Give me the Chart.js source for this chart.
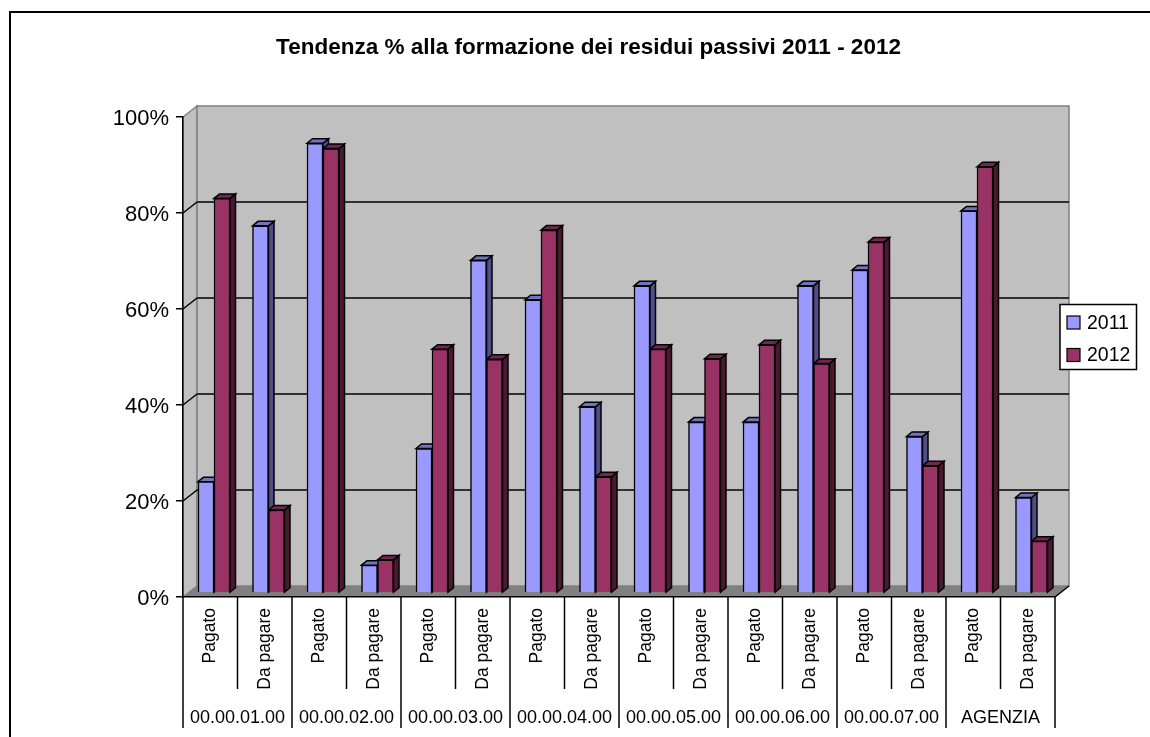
<!DOCTYPE html>
<html>
<head>
<meta charset="utf-8">
<title>Tendenza residui passivi</title>
<style>
    html, body { margin: 0; padding: 0; background: #fff; }
    canvas { display: block; }
</style>
<script src="https://cdn.jsdelivr.net/npm/chart.js@4"></script>
</head>
<body>
<canvas id="residuiChart" width="1150" height="737"></canvas>
<script>
const categories = ['Pagato', 'Da pagare', 'Pagato', 'Da pagare', 'Pagato', 'Da pagare', 'Pagato', 'Da pagare',
    'Pagato', 'Da pagare', 'Pagato', 'Da pagare', 'Pagato', 'Da pagare', 'Pagato', 'Da pagare'];
const groups = ['00.00.01.00', '00.00.02.00', '00.00.03.00', '00.00.04.00', '00.00.05.00', '00.00.06.00', '00.00.07.00', 'AGENZIA'];
const values2011 = [23.2, 76.5, 93.7, 5.8, 30.1, 69.3, 61.1, 38.8, 64, 35.6, 35.6, 64, 67.3, 32.6, 79.6, 19.9];
const values2012 = [82.2, 17.3, 92.6, 6.9, 50.8, 48.7, 75.6, 24.2, 50.8, 48.8, 51.7, 47.8, 73.1, 26.5, 88.8, 10.8];
const seriesLabels = ['2011', '2012'];

const FONT = '"Liberation Sans", Arial, sans-serif';
const BLUE = '#9999FF', BLUE_TOP = '#7373BF', BLUE_SIDE = '#4F4F88';
const RED = '#993366', RED_TOP = '#732650', RED_SIDE = '#4C1933';

// offsets of the fake 3D look
const WALL_DX = 14, WALL_DY = 11;   // back wall behind the front axes
const BAR_DX = 3.75, BAR_DY = 4;    // bars stand a bit inside the floor
const DEPTH_X = 5.5, DEPTH_Y = 4.5; // depth of a single bar

function poly(ctx, pts, fill, stroke, lw) {
    ctx.beginPath();
    ctx.moveTo(pts[0][0], pts[0][1]);
    for (let i = 1; i < pts.length; i++) ctx.lineTo(pts[i][0], pts[i][1]);
    ctx.closePath();
    if (fill) { ctx.fillStyle = fill; ctx.fill(); }
    if (stroke) { ctx.strokeStyle = stroke; ctx.lineWidth = lw; ctx.stroke(); }
}

function line(ctx, x1, y1, x2, y2, color, lw) {
    ctx.beginPath();
    ctx.moveTo(x1, y1);
    ctx.lineTo(x2, y2);
    ctx.strokeStyle = color;
    ctx.lineWidth = lw;
    ctx.stroke();
}

const wallsPlugin = {
    id: 'walls',
    // the y labels are wider than the fitted axis and would be clipped
    afterLayout(chart) {
        chart.scales.y.left = 100;
    },
    // frame, walls, floor and gridlines, all under the axes
    beforeDraw(chart) {
        const ctx = chart.ctx, area = chart.chartArea, y = chart.scales.y;
        const l = area.left, r = area.right, t = area.top, b = area.bottom;
        ctx.save();
        ctx.fillStyle = '#fff';
        ctx.fillRect(0, 0, chart.width, chart.height);
        ctx.strokeStyle = '#000';
        ctx.lineWidth = 2;
        ctx.strokeRect(10, 12, chart.width + 20, chart.height + 20);

        poly(ctx, [[l, t], [l + WALL_DX, t - WALL_DY], [l + WALL_DX, b - WALL_DY], [l, b]], '#C0C0C0', '#808080', 1.5);
        poly(ctx, [[l + WALL_DX, t - WALL_DY], [r + WALL_DX, t - WALL_DY], [r + WALL_DX, b - WALL_DY], [l + WALL_DX, b - WALL_DY]], '#C0C0C0', '#808080', 1.5);
        poly(ctx, [[l, b], [l + WALL_DX, b - WALL_DY], [r + WALL_DX, b - WALL_DY], [r, b]], '#808080', null, 0);

        y.ticks.forEach(function (tick) {
            if (tick.value === 0 || tick.value === 100) return;
            const py = y.getPixelForValue(tick.value);
            line(ctx, l, py, l + WALL_DX, py - WALL_DY, '#000', 1.5);
            line(ctx, l + WALL_DX, py - WALL_DY, r + WALL_DX, py - WALL_DY, '#000', 1.5);
        });
        line(ctx, r, b, r + WALL_DX, b - WALL_DY, '#000', 1.5);
        ctx.restore();
    },
    // side and top faces of all bars go first: 2011 sides must end up behind the 2012 fronts
    beforeDatasetsDraw(chart) {
        const ctx = chart.ctx;
        ctx.save();
        chart.data.datasets.forEach(function (ds, i) {
            chart.getDatasetMeta(i).data.forEach(function (bar) {
                const left = bar.x - bar.width / 2 + BAR_DX;
                const right = bar.x + bar.width / 2 + BAR_DX;
                const top = bar.y - BAR_DY;
                const bottom = bar.base - BAR_DY;
                poly(ctx, [[right, top], [right + DEPTH_X, top - DEPTH_Y], [right + DEPTH_X, bottom - DEPTH_Y], [right, bottom]], ds.sideColor, '#000', 1.5);
                poly(ctx, [[left, top], [left + DEPTH_X, top - DEPTH_Y], [right + DEPTH_X, top - DEPTH_Y], [right, top]], ds.topColor, '#000', 1.5);
            });
        });
        ctx.restore();
    },
    // the bar fronts are moved onto the floor
    beforeDatasetDraw(chart) {
        chart.ctx.save();
        chart.ctx.translate(BAR_DX, -BAR_DY);
    },
    afterDatasetDraw(chart) {
        chart.ctx.restore();
    },
    // dividers under the axis and the legend box on top of the wall
    afterDraw(chart) {
        const ctx = chart.ctx, x = chart.scales.x;
        const step = (x.right - x.left) / categories.length;
        ctx.save();
        for (let i = 0; i <= categories.length; i++) {
            const px = x.left + i * step;
            line(ctx, px, x.top, px, i % 2 === 0 ? 728 : 689, '#000', 1.5);
        }

        ctx.fillStyle = '#fff';
        ctx.fillRect(1060, 304.5, 76.5, 65);
        ctx.strokeStyle = '#000';
        ctx.lineWidth = 1.5;
        ctx.strokeRect(1060, 304.5, 76.5, 65);
        ctx.font = '19.5px ' + FONT;
        ctx.textBaseline = 'middle';
        chart.data.datasets.forEach(function (ds, i) {
            const rowY = 322.5 + i * 32.5;
            ctx.fillStyle = ds.backgroundColor;
            ctx.fillRect(1067, rowY - 6.5, 13, 13);
            ctx.strokeStyle = '#000';
            ctx.lineWidth = 1.2;
            ctx.strokeRect(1067, rowY - 6.5, 13, 13);
            ctx.fillStyle = '#000';
            ctx.fillText(ds.label, 1087, rowY + 1);
        });
        ctx.restore();
    }
};

new Chart(document.getElementById('residuiChart').getContext('2d'), {
    type: 'bar',
    data: {
        labels: categories,
        datasets: [
            {
                label: seriesLabels[0], data: values2011, clip: false,
                backgroundColor: BLUE, borderColor: '#000', borderWidth: 1.5,
                topColor: BLUE_TOP, sideColor: BLUE_SIDE, barThickness: 16
            },
            {
                label: seriesLabels[1], data: values2012, clip: false,
                backgroundColor: RED, borderColor: '#000', borderWidth: 1.5,
                topColor: RED_TOP, sideColor: RED_SIDE, barThickness: 16
            }
        ]
    },
    options: {
        responsive: false,
        animation: false,
        layout: { padding: { left: 122, right: 95, top: 0, bottom: 0 } },
        plugins: {
            legend: { display: false },
            tooltip: { enabled: false },
            title: {
                display: true,
                text: 'Tendenza % alla formazione dei residui passivi 2011 - 2012',
                color: '#000',
                font: { family: FONT, size: 22.5, weight: 'bold' },
                padding: { top: 34.5, bottom: 55.5 }
            }
        },
        scales: {
            y: {
                min: 0,
                max: 100,
                ticks: {
                    stepSize: 20,
                    color: '#000',
                    padding: 7,
                    labelOffset: 2,
                    font: { family: FONT, size: 22 },
                    callback: function (v) { return v + '%'; }
                },
                grid: { drawOnChartArea: false, color: '#000', tickLength: 7, lineWidth: 1.5 },
                border: { display: true, color: '#000', width: 1.5 },
                afterFit: function (scale) { scale.width = 61; }
            },
            x: {
                weight: 0,
                ticks: {
                    autoSkip: false,
                    minRotation: 90,
                    maxRotation: 90,
                    color: '#000',
                    padding: 11,
                    font: { family: FONT, size: 17.5 }
                },
                grid: { display: false, drawTicks: false },
                border: { display: true, color: '#000', width: 1.5 },
                afterFit: function (scale) { scale.height = 93; }
            },
            xGroup: {
                type: 'category',
                axis: 'x',
                position: 'bottom',
                weight: 1,
                labels: groups,
                offset: true,
                ticks: {
                    autoSkip: false,
                    maxRotation: 0,
                    color: '#000',
                    padding: 17,
                    font: { family: FONT, size: 18 }
                },
                grid: { display: false, drawTicks: false },
                border: { display: false },
                afterFit: function (scale) { scale.height = 47; }
            }
        }
    },
    plugins: [wallsPlugin]
});
</script>
</body>
</html>
